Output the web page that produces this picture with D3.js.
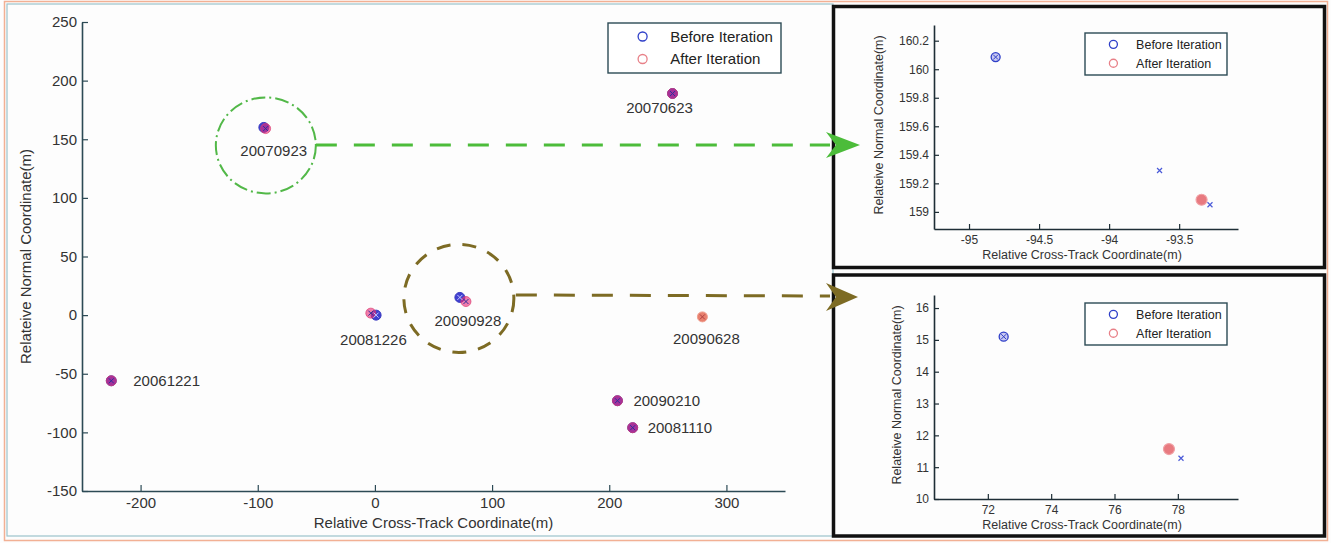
<!DOCTYPE html>
<html>
<head>
<meta charset="utf-8">
<script src="https://cdn.jsdelivr.net/npm/d3@7"></script>
<style>
  body { margin: 0; background: #fff; }
  svg { display: block; font-family: "Liberation Sans", Arial, sans-serif; }
  .tick text { fill: #333; }
</style>
</head>
<body>
<script>
// ---- data ----
// main plot: acquisition dates and positions before / after iteration
var dates = ["20061221", "20070623", "20070923", "20081110", "20081226", "20090210", "20090628", "20090928"];
var beforeX = [-225, 254, -94.8, 220, 1, 207, null, 72.5];
var beforeY = [-56, 189, 160.1, -96, 0, -73, null, 15.1];
var afterX = [-225, 254, -93.3, 220, -3.5, 207, 279.5, 77.7];
var afterY = [-56, 189, 159.1, -96, 1.7, -73, -1.5, 11.6];

var mainXTicks = [-200, -100, 0, 100, 200, 300];
var mainYTicks = [-150, -100, -50, 0, 50, 100, 150, 200, 250];

// zoom 1 : 20070923
var zoom1Before = [[-94.81, 160.085]];
var zoom1After = [[-93.34, 159.085]];
var zoom1Cross = [[-93.64, 159.29], [-93.28, 159.05]];
var zoom1XTicks = [-95, -94.5, -94, -93.5];
var zoom1YTicks = [159, 159.2, 159.4, 159.6, 159.8, 160, 160.2];

// zoom 2 : 20090928
var zoom2Before = [[72.5, 15.1]];
var zoom2After = [[77.72, 11.57]];
var zoom2Cross = [[78.1, 11.28]];
var zoom2XTicks = [72, 74, 76, 78];
var zoom2YTicks = [10, 11, 12, 13, 14, 15, 16];

var legendLabels = ["Before Iteration", "After Iteration"];
var blue = "#2f3fc8", red = "#e0606a";

// plain hyphen for negatives, like the original
var fmt = function (d) { return String(+d.toFixed(1)); };

var svg = d3.select("body").append("svg").attr("width", 1331).attr("height", 543);
svg.append("rect").attr("width", 1331).attr("height", 543).attr("fill", "#fdfdfd");

// frames
svg.append("rect").attr("x", 4.5).attr("y", 1.5).attr("width", 1323).attr("height", 539)
  .attr("fill", "none").attr("stroke", "#f2b094").attr("stroke-width", 1.5);
svg.append("rect").attr("x", 7).attr("y", 4).attr("width", 826).attr("height", 532)
  .attr("fill", "none").attr("stroke", "#9cc4cc").attr("stroke-width", 1.2);

// main plot
var main = { left: 82, top: 22, right: 785, bottom: 491 };
var x = d3.scaleLinear().domain([-250, 350]).range([main.left, main.right]);
var y = d3.scaleLinear().domain([-150, 250]).range([main.bottom, main.top]);

function styleAxis(g, color) {
  g.select(".domain").attr("stroke", color).attr("stroke-width", 1.6);
  g.selectAll(".tick line").attr("stroke", color).attr("stroke-width", 1.2);
}

var gx = svg.append("g").attr("transform", "translate(0," + main.bottom + ")")
  .call(d3.axisBottom(x).tickValues(mainXTicks).tickSizeInner(-6).tickSizeOuter(0).tickPadding(6).tickFormat(fmt))
  .style("font-size", "15px");
styleAxis(gx, "#2c4a55");
var gy = svg.append("g").attr("transform", "translate(" + main.left + ",0)")
  .call(d3.axisLeft(y).tickValues(mainYTicks).tickSizeInner(-6).tickSizeOuter(0).tickPadding(5).tickFormat(fmt))
  .style("font-size", "15px");
styleAxis(gy, "#2c4a55");

svg.append("text").attr("x", (main.left + main.right) / 2).attr("y", 528)
  .attr("text-anchor", "middle").attr("font-size", 15).attr("fill", "#333")
  .text("Relative Cross-Track Coordinate(m)");
svg.append("text").attr("transform", "translate(31," + (main.top + main.bottom) / 2 + ") rotate(-90)")
  .attr("text-anchor", "middle").attr("font-size", 15).attr("fill", "#333")
  .text("Relateive Normal Coordinate(m)");

function cross(g, cx, cy, s, color, w) {
  g.append("path").attr("d", "M" + (cx - s) + "," + (cy - s) + "L" + (cx + s) + "," + (cy + s) +
    "M" + (cx - s) + "," + (cy + s) + "L" + (cx + s) + "," + (cy - s))
    .attr("stroke", color).attr("stroke-width", w).attr("fill", "none");
}

// annotation circles + dashed leaders (drawn under the points)
var ann = svg.append("g");
var p1 = [x(beforeX[2]), y(beforeY[2])];
ann.append("ellipse").attr("cx", p1[0] + 2).attr("cy", p1[1] + 18).attr("rx", 50).attr("ry", 48)
  .attr("fill", "none").attr("stroke", "#52b848").attr("stroke-width", 2)
  .attr("stroke-dasharray", "14,4,2,4");
ann.append("line").attr("x1", p1[0] + 52).attr("x2", 830).attr("y1", 145).attr("y2", 145)
  .attr("stroke", "#4cbc3a").attr("stroke-width", 3).attr("stroke-dasharray", "21,17");

var p2 = [x(beforeX[7]), y(beforeY[7])];
ann.append("ellipse").attr("cx", p2[0] - 1).attr("cy", p2[1] + 1).attr("rx", 55).attr("ry", 54)
  .attr("fill", "none").attr("stroke", "#7d6b24").attr("stroke-width", 3)
  .attr("stroke-dasharray", "14,12");
ann.append("line").attr("x1", p2[0] + 56).attr("x2", 830).attr("y1", 295).attr("y2", 296)
  .attr("stroke", "#7d6b24").attr("stroke-width", 3).attr("stroke-dasharray", "21,17");

// points
var labelOffsets = {
  "20061221": [22, 0, "start"], "20070623": [-13, 14, "middle"], "20070923": [9, 23, "middle"],
  "20081110": [15, 0, "start"], "20081226": [0, 26, "middle"], "20090210": [16, 0, "start"],
  "20090628": [4, 22, "middle"], "20090928": [5, 21, "middle"]
};
var pts = svg.append("g");
dates.forEach(function (d, i) {
  var both = beforeX[i] != null;
  if (both) {
    pts.append("circle").attr("cx", x(beforeX[i])).attr("cy", y(beforeY[i])).attr("r", 5)
      .attr("fill", "#4040d0").attr("stroke", "#3a3ac0").attr("stroke-width", 1);
  }
  pts.append("circle").attr("cx", x(afterX[i])).attr("cy", y(afterY[i])).attr("r", 5)
    .attr("fill", both ? "rgba(232,40,120,0.6)" : "#e8806e")
    .attr("stroke", both ? "rgba(220,60,110,0.7)" : "#f0a090").attr("stroke-width", 1);
  cross(pts, x(afterX[i]), y(afterY[i]), 2.5, both ? "#30309a" : "#b04040", 1);
  if (both && Math.abs(x(beforeX[i]) - x(afterX[i])) > 3) {
    cross(pts, x(beforeX[i]), y(beforeY[i]), 2.5, "#c8c8ff", 1);
  }
  var lo = labelOffsets[d];
  var px = both ? (x(beforeX[i]) + x(afterX[i])) / 2 : x(afterX[i]);
  var py = both ? (y(beforeY[i]) + y(afterY[i])) / 2 : y(afterY[i]);
  pts.append("text").attr("x", px + lo[0]).attr("y", py + lo[1]).attr("dy", "0.35em")
    .attr("text-anchor", lo[2]).attr("font-size", 15).attr("fill", "#333").text(d);
});

function legend(g, bx, by, w, h, fs, r) {
  g.append("rect").attr("x", bx).attr("y", by).attr("width", w).attr("height", h)
    .attr("fill", "#fff").attr("stroke", "#2c4a55").attr("stroke-width", 1.4);
  legendLabels.forEach(function (l, i) {
    var cy = by + h * (i === 0 ? 0.27 : 0.72);
    g.append("circle").attr("cx", bx + w * 0.2).attr("cy", cy).attr("r", r)
      .attr("fill", "none").attr("stroke", i === 0 ? blue : "#e88088").attr("stroke-width", 1.3);
    g.append("text").attr("x", bx + w * 0.36).attr("y", cy).attr("dy", "0.35em")
      .attr("font-size", fs).attr("fill", "#222").text(l);
  });
}
legend(svg, 608, 23, 173, 50, 15, 4.5);

// inset plots
function inset(frameY, box, xd, yd, xt, yt, before, after, crosses) {
  svg.append("rect").attr("x", 833.5).attr("y", frameY).attr("width", 491).attr("height", 261)
    .attr("fill", "#fdfdfd").attr("stroke", "#111").attr("stroke-width", 3.5);
  var sx = d3.scaleLinear().domain(xd).range([box.left, box.right]);
  var sy = d3.scaleLinear().domain(yd).range([box.bottom, box.top]);
  var ax = svg.append("g").attr("transform", "translate(0," + box.bottom + ")")
    .call(d3.axisBottom(sx).tickValues(xt).tickSizeInner(-5).tickSizeOuter(0).tickPadding(6).tickFormat(fmt))
    .style("font-size", "12px");
  styleAxis(ax, "#1e2e36");
  var ay = svg.append("g").attr("transform", "translate(" + box.left + ",0)")
    .call(d3.axisLeft(sy).tickValues(yt).tickSizeInner(-5).tickSizeOuter(0).tickPadding(5).tickFormat(fmt))
    .style("font-size", "12px");
  styleAxis(ay, "#1e2e36");
  svg.append("text").attr("x", (box.left + box.right) / 2 - 4).attr("y", box.bottom + 30)
    .attr("text-anchor", "middle").attr("font-size", 12.5).attr("fill", "#333")
    .text("Relative Cross-Track Coordinate(m)");
  svg.append("text").attr("transform", "translate(" + box.yl + "," + ((box.top + box.bottom) / 2 - 2) + ") rotate(-90)")
    .attr("text-anchor", "middle").attr("font-size", 12.5).attr("fill", "#333")
    .text("Relateive Normal Coordinate(m)");
  before.forEach(function (p) {
    svg.append("circle").attr("cx", sx(p[0])).attr("cy", sy(p[1])).attr("r", 4.5)
      .attr("fill", "#c8c8f0").attr("stroke", blue).attr("stroke-width", 1.3);
    cross(svg, sx(p[0]), sy(p[1]), 2.5, blue, 1);
  });
  after.forEach(function (p) {
    svg.append("circle").attr("cx", sx(p[0])).attr("cy", sy(p[1])).attr("r", 5.5)
      .attr("fill", "#e87a80").attr("stroke", "#f0a0a4").attr("stroke-width", 1.2);
  });
  crosses.forEach(function (p) {
    cross(svg, sx(p[0]), sy(p[1]), 2.5, "#4a5ad8", 1.2);
  });
  legend(svg, 1085, box.top + box.leg, 142, 42, 12.5, 4);
}

inset(6.5, { left: 934, right: 1238, top: 25, bottom: 229, yl: 883, leg: 8 },
  [-95.25, -93.08], [158.88, 160.31], zoom1XTicks, zoom1YTicks,
  zoom1Before, zoom1After, zoom1Cross);
inset(275, { left: 934, right: 1238, top: 295, bottom: 499, yl: 901, leg: 8 },
  [70.3, 79.9], [10, 16.41], zoom2XTicks, zoom2YTicks,
  zoom2Before, zoom2After, zoom2Cross);

// arrow heads sit on top of the inset frames
svg.append("path").attr("d", "M860,145L826,132L836,145L826,158Z").attr("fill", "#4cbc3a");
svg.append("path").attr("d", "M858,297L826,283L836,297L826,311Z").attr("fill", "#7d6b24");
</script>
</body>
</html>
